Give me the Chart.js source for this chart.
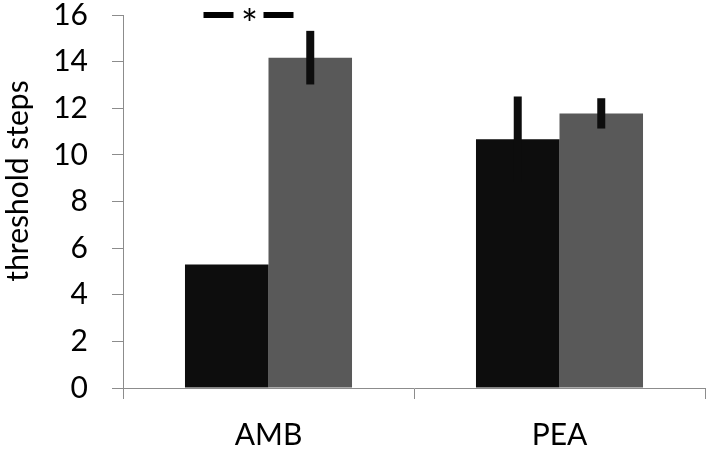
<!DOCTYPE html>
<html>
<head>
<meta charset="utf-8">
<script src="https://cdn.jsdelivr.net/npm/chart.js@4.4.1/dist/chart.umd.min.js"></script>
<style>
  html, body { margin: 0; padding: 0; background: #fff; }
  #wrap { position: relative; width: 709px; height: 449px; }
</style>
</head>
<body>
<div id="wrap"><canvas id="chart"></canvas></div>
<script>
// Data
const categories = ['AMB', 'PEA'];
const blackValues = [5.3, 10.67];
const blackErrors = [0, 1.83];
const greyValues = [14.17, 11.78];
const greyErrors = [1.15, 0.65];
const yTicks = [0, 2, 4, 6, 8, 10, 12, 14, 16];
const yTitle = 'threshold steps';
const sigLevel = 16;   // height of the "— * —" marker
const sigCategory = 0; // AMB

const FONT = 'Lato';
const AXIS = '#8c8c8c';

// vertical error bars, drawn from each bar's own position
const errorBars = {
  id: 'errorBars',
  afterDatasetsDraw(chart) {
    const { ctx, scales: { y } } = chart;
    ctx.save();
    ctx.strokeStyle = '#0d0d0d';
    ctx.lineWidth = 8;
    ctx.lineCap = 'butt';
    chart.data.datasets.forEach((ds, i) => {
      const meta = chart.getDatasetMeta(i);
      meta.data.forEach((bar, j) => {
        const e = ds.errors[j];
        if (!e) return;
        const v = ds.data[j];
        ctx.beginPath();
        ctx.moveTo(bar.x, y.getPixelForValue(v + e));
        ctx.lineTo(bar.x, y.getPixelForValue(v - e));
        ctx.stroke();
      });
    });
    ctx.restore();
  }
};

// significance marker + rotated axis title
const annotations = {
  id: 'annotations',
  afterDraw(chart) {
    const { ctx, scales: { x, y } } = chart;
    const cx = x.getPixelForValue(sigCategory) - 19;
    const sy = y.getPixelForValue(sigLevel);
    ctx.save();
    ctx.fillStyle = '#000';
    ctx.fillRect(cx - 46, sy - 3, 30, 6);
    ctx.fillRect(cx + 14, sy - 3, 30, 6);
    ctx.font = `40px ${FONT}`;
    ctx.textAlign = 'center';
    ctx.textBaseline = 'alphabetic';
    const m = ctx.measureText('*');
    const base = sy - 1 + (m.actualBoundingBoxAscent - m.actualBoundingBoxDescent) / 2;
    ctx.fillText('*', cx, base);

    ctx.translate(28, 181);
    ctx.rotate(-Math.PI / 2);
    ctx.font = `30px ${FONT}`;
    ctx.fillText(yTitle, 0, 0);
    ctx.restore();
  }
};

new Chart(document.getElementById('chart'), {
  type: 'bar',
  data: {
    labels: categories,
    datasets: [
      { data: blackValues, errors: blackErrors, backgroundColor: '#0d0d0d' },
      { data: greyValues, errors: greyErrors, backgroundColor: '#595959' }
    ]
  },
  options: {
    responsive: true,
    maintainAspectRatio: false,
    animation: false,
    events: [],
    layout: { padding: { top: 15, right: 4, left: 0, bottom: 0 } },
    plugins: { legend: { display: false }, tooltip: { enabled: false } },
    datasets: { bar: { categoryPercentage: 0.574, barPercentage: 1 } },
    scales: {
      x: {
        grid: { display: true, drawOnChartArea: false, drawTicks: true, tickLength: 11, color: AXIS, offset: true },
        border: { color: AXIS },
        ticks: { color: '#000', font: { family: FONT, size: 30 }, padding: 18 },
        afterFit: (s) => { s.height = 61; s.paddingLeft = 0; s.paddingRight = 0; }
      },
      y: {
        min: 0,
        max: 16,
        afterBuildTicks: (s) => { s.ticks = yTicks.map(v => ({ value: v })); },
        grid: { display: true, drawOnChartArea: false, drawTicks: true, tickLength: 11, color: AXIS },
        border: { color: AXIS },
        ticks: { color: '#000', font: { family: FONT, size: 30, lineHeight: 1 }, padding: 24 },
        afterFit: (s) => { s.width = 123; s.paddingTop = 0; s.paddingBottom = 0; }
      }
    }
  },
  plugins: [errorBars, annotations]
});
</script>
</body>
</html>
